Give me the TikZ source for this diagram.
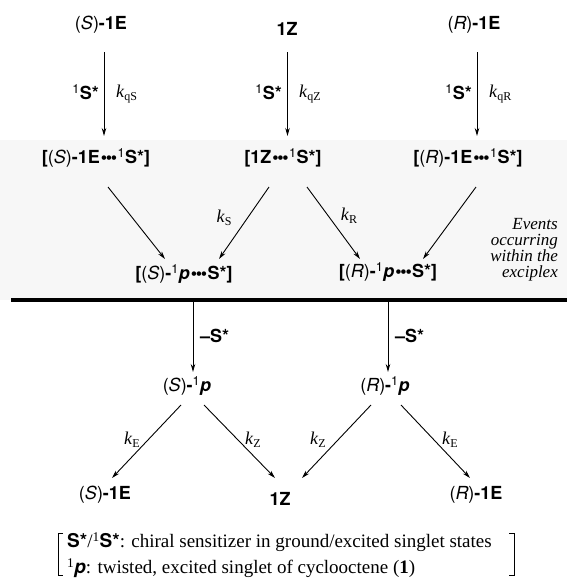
\documentclass[tikz,border=0pt]{standalone}
\usepackage{fontspec}
\setmainfont{Liberation Serif}
\newfontfamily\hv{TeX Gyre Heros}
\usetikzlibrary{arrows.meta,calc}
\newcommand{\cfg}[1]{{\mdseries(\textit{#1})}}
\newcommand{\dts}{{\kern0.06em\raisebox{0.05ex}{\textbullet\kern-0.07em\textbullet\kern-0.07em\textbullet}\kern0.02em}}
\newcommand{\one}{\textsuperscript{\mdseries 1}}
\newcommand{\kk}[1]{\textit{k}\raisebox{-0.35ex}{\fontsize{12}{12}\selectfont #1}}
\begin{document}
\begin{tikzpicture}[x=1pt,y=-1pt,
  chem/.style={font=\hv\bfseries\fontsize{18}{20}\selectfont, inner sep=0pt},
  kl/.style={font=\fontsize{18}{20}\selectfont, inner sep=0pt},
  arr/.style={line width=0.9pt, -{Stealth[length=8pt,width=4.5pt]}}]
\useasboundingbox (0,0) rectangle (567,584);
\fill[black!3] (0,140) rectangle (567,300);
% top row
\node[chem] (SE0) at (101,25) {\cfg{S}-1E};
\node[chem] (Z0)  at (287,29) {1Z};
\node[chem] (RE0) at (474,25) {\cfg{R}-1E};
% second row
\node[chem] (SE1) at (96,158) {[\cfg{S}-1E\dts\one S*]};
\node[chem] (Z1)  at (283,158) {[1Z\dts\one S*]};
\node[chem] (RE1) at (468,158) {[\cfg{R}-1E\dts\one S*]};
% third row
\node[chem] (SP) at (184,274) {[\cfg{S}-\one\textit{p}\dts S*]};
\node[chem] (RP) at (388,272) {[\cfg{R}-\one\textit{p}\dts S*]};
% vertical arrows top
\draw[arr] ($(SE0)+(3,27)$) -- ($(SE1)+(8,-22)$);
\draw[arr] ($(Z0)+(0.5,23)$) -- ($(Z1)+(4.5,-22)$);
\draw[arr] ($(RE0)+(3,27)$) -- ($(RE1)+(9,-22)$);
\node[chem, anchor=east] (l1) at (99,92) {\one S*};
\node[chem, anchor=east] (l2) at (282,92) {\one S*};
\node[chem, anchor=east] (l3) at (472,92) {\one S*};
\node[kl, anchor=west] (k1) at (116,94) {\kk{qS}};
\node[kl, anchor=west] (k2) at (299,94) {\kk{qZ}};
\node[kl, anchor=west] (k3) at (489,94) {\kk{qR}};
% diagonals top
\draw[arr] ($(SE1)+(12,29)$) -- ($(SP)+(-19,-15)$);
\draw[arr] ($(Z1)+(-14,29)$) -- ($(SP)+(35,-15)$);
\draw[arr] ($(Z1)+(24,29)$) -- ($(RP)+(-28,-13)$);
\draw[arr] ($(RE1)+(8,29)$) -- ($(RP)+(35,-13)$);
\node[kl] (kS) at (224,218) {\kk{S}};
\node[kl] (kR) at (349,216) {\kk{R}};
\node[font=\itshape\fontsize{17}{16}\selectfont, align=right, anchor=north east, inner sep=0pt] (ev) at (558,218) {Events\\occurring\\within the\\exciplex};
% separator
\draw[line width=4pt] (11,300) -- (567,300);
\coordinate (c1) at (193,300);
\coordinate (c2) at (388,300);
% lower row
\node[chem] (SP2) at (187,386) {\cfg{S}-\one\textit{p}};
\node[chem] (RP2) at (385,386) {\cfg{R}-\one\textit{p}};
\draw[arr] (c1) -- ($(SP2)+(6,-14)$);
\draw[arr] (c2) -- ($(RP2)+(3,-14)$);
\node[chem, anchor=west] (m1) at (200,336) {\textendash S*};
\node[chem, anchor=west] (m2) at (395,336) {\textendash S*};
% bottom row
\node[chem] (SE2) at (105,495) {\cfg{S}-1E};
\node[chem] (Z2)  at (280,499) {1Z};
\node[chem] (RE2) at (476,495) {\cfg{R}-1E};
\draw[arr] ($(SP2)+(-6,19)$) -- ($(SE2)+(7,-17)$);
\draw[arr] ($(SP2)+(17,19)$) -- ($(Z2)+(-5,-21)$);
\draw[arr] ($(RP2)+(-14,19)$) -- ($(Z2)+(22,-21)$);
\draw[arr] ($(RP2)+(16,19)$) -- ($(RE2)+(-6,-17)$);
\node[kl] (kE1) at (132,440) {\kk{E}};
\node[kl] (kZ1) at (253,440) {\kk{Z}};
\node[kl] (kZ2) at (318,440) {\kk{Z}};
\node[kl] (kE2) at (450,440) {\kk{E}};
% legend
\node[anchor=west, inner sep=0pt, font=\fontsize{19}{22}\selectfont] (lg1) at (67,542) {{\hv\bfseries S*}/\textsuperscript{1}{\hv\bfseries S*}: chiral sensitizer in ground/excited singlet states};
\node[anchor=west, inner sep=0pt, font=\fontsize{19}{22}\selectfont] (lg2) at (67,568) {\textsuperscript{1}{\hv\bfseries\itshape p}: twisted, excited singlet of cyclooctene (\textbf{1})};
\draw[line width=0.7pt] (63,533) -- (58,533) -- (58,575) -- (63,575);
\draw[line width=0.7pt] (509,533) -- (514,533) -- (514,575) -- (509,575);
\end{tikzpicture}
\end{document}
